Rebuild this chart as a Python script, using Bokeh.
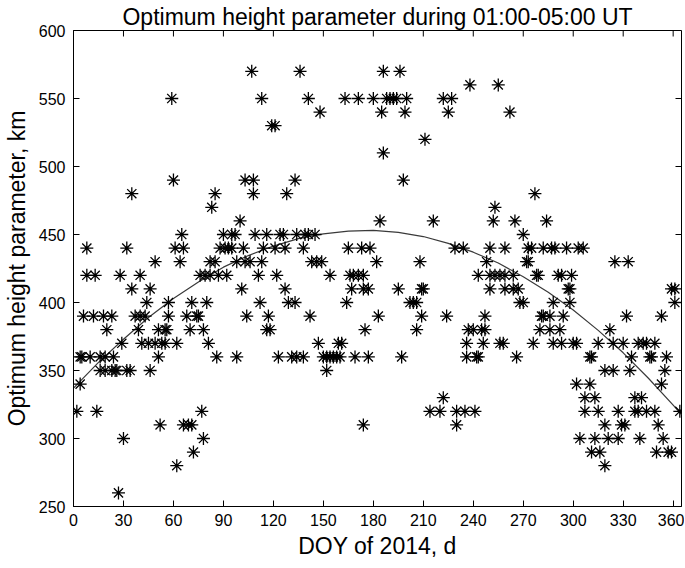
from bokeh.plotting import figure
from bokeh.models import FixedTicker, Range1d
from bokeh.embed import file_html
from bokeh.resources import INLINE

# ---------------- data ----------------
x_ticks = list(range(0, 361, 30))
y_ticks = list(range(250, 601, 50))
x_lim = (0, 365)
y_lim = (250, 600)

# day-of-year values of the points found at each height level (km)
d570 = [107, 136, 186, 196]
d560 = [238, 255]
d550 = [59, 113, 141, 163, 171, 180, 188, 190, 192, 194, 200, 222, 227]
d540 = [148, 185, 199, 225, 262]
d530 = [119, 121]
d520 = [211]
d510 = [186]
d490 = [60, 103, 108, 133, 198]
d480 = [35, 85, 108, 128, 277]
d470 = [83, 253]
d460 = [100, 184, 216, 252, 265, 284]
d450 = [65, 90, 95, 97, 109, 116, 124, 126, 134, 139, 141, 145, 270]
d440 = [8, 32, 61, 66, 88, 91, 93, 95, 102, 114, 121, 127, 138, 165, 173, 178,
        229, 234, 250, 259, 273, 275, 282, 287, 289, 296, 303, 306]
d430 = [49, 64, 82, 85, 98, 103, 106, 113, 143, 146, 149, 182, 208, 248, 272,
        273, 325, 333]
d420 = [8, 13, 28, 40, 76, 79, 82, 87, 92, 111, 122, 154, 166, 168, 171, 174,
        243, 250, 253, 256, 259, 264, 278, 279, 291, 293, 299]
d410 = [35, 46, 101, 127, 167, 174, 177, 195, 209, 210, 250, 259, 264, 267,
        297, 298, 359, 361]
d400 = [44, 57, 71, 80, 112, 129, 133, 164, 202, 204, 206, 268, 270, 288, 298, 361]
d390 = [6, 12, 18, 23, 37, 40, 43, 57, 68, 74, 75, 104, 117, 142, 183, 209, 224,
        247, 281, 282, 286, 294, 332, 353]
d380 = [20, 39, 51, 55, 56, 70, 78, 116, 118, 175, 206, 237, 240, 245, 247, 280,
        286, 292, 322]
d370 = [29, 41, 45, 49, 53, 55, 62, 81, 147, 159, 161, 236, 246, 256, 258, 276,
        288, 293, 300, 302, 315, 324, 330, 339, 342, 344, 349]
d360 = [4, 5, 10, 16, 19, 24, 51, 86, 98, 123, 131, 134, 138, 150, 152, 154, 156,
        158, 160, 169, 177, 197, 236, 242, 243, 266, 310, 311, 335, 346, 347, 356]
d350 = [16, 19, 23, 25, 26, 32, 34, 46, 152, 319, 324, 334, 355]
d340 = [4, 302, 310, 353]
d330 = [222, 307, 313, 337, 341]
d320 = [2, 14, 77, 214, 220, 230, 235, 241, 307, 315, 327, 337, 339, 344, 349, 364]
d310 = [52, 66, 69, 71, 174, 230, 319, 329, 331, 351]
d300 = [30, 78, 304, 313, 321, 327, 340, 354]
d290 = [72, 311, 316, 350, 357, 359]
d280 = [62, 319]
d260 = [27]

levels = [570, 560, 550, 540, 530, 520, 510, 490, 480, 470, 460, 450, 440, 430,
          420, 410, 400, 390, 380, 370, 360, 350, 340, 330, 320, 310, 300, 290,
          280, 260]
level_days = [d570, d560, d550, d540, d530, d520, d510, d490, d480, d470, d460,
              d450, d440, d430, d420, d410, d400, d390, d380, d370, d360, d350,
              d340, d330, d320, d310, d300, d290, d280, d260]

doy = []
height_km = []
for h, days in zip(levels, level_days):
    doy += days
    height_km += [h] * len(days)

# fitted curve
fit_doy = [0, 15, 30, 45, 60, 75, 90, 105, 120, 135, 150, 165, 180, 195, 210,
           225, 240, 255, 270, 285, 300, 315, 330, 345, 360, 365]
fit_height = [337, 356, 373, 389, 403, 415, 426, 434.5, 441.5, 447, 450.5, 452.5,
              453, 451.5, 448.5, 443.5, 437, 429, 419, 407.5, 394.5, 379.5,
              363, 344.5, 324.5, 317.5]

# ---------------- figure ----------------
FONT = "Liberation Sans"
FW, FH = 608, 476          # frame size in px
TICK = 6                   # inward tick length in px

p = figure(frame_width=FW, frame_height=FH,
           x_range=Range1d(*x_lim), y_range=Range1d(*y_lim),
           output_backend="svg", toolbar_location=None,
           title="Optimum height parameter during 01:00-05:00 UT")
p.min_border_left = 64
p.min_border_right = 3
p.min_border_top = 24
p.min_border_bottom = 58
p.background_fill_color = "white"
p.border_fill_color = "white"
p.outline_line_color = "black"
p.outline_line_width = 1
p.xgrid.visible = False
p.ygrid.visible = False

p.title.text_font = FONT
p.title.text_font_size = "23px"
p.title.text_font_style = "normal"
p.title.text_color = "black"
p.title.align = "center"
p.title.standoff = 2

for ax, tk in ((p.xaxis[0], x_ticks), (p.yaxis[0], y_ticks)):
    ax.ticker = FixedTicker(ticks=tk)
    ax.major_tick_in = TICK
    ax.major_tick_out = 0
    ax.minor_tick_in = 0
    ax.minor_tick_out = 0
    ax.axis_line_color = "black"
    ax.major_tick_line_color = "black"
    ax.major_label_text_font = FONT
    ax.major_label_text_font_size = "16px"
    ax.major_label_text_color = "black"
    ax.axis_label_text_font = FONT
    ax.axis_label_text_font_size = "23px"
    ax.axis_label_text_font_style = "normal"
    ax.axis_label_text_color = "black"

p.xaxis[0].axis_label = "DOY of 2014, d"
p.xaxis[0].major_label_standoff = 7
p.xaxis[0].axis_label_standoff = 4
p.yaxis[0].axis_label = "Optimum height parameter, km"
p.yaxis[0].major_label_standoff = 8
p.yaxis[0].axis_label_standoff = 6

# inward ticks on the top and right sides of the box
dy = TICK * (y_lim[1] - y_lim[0]) / FH
dx = TICK * (x_lim[1] - x_lim[0]) / FW
p.segment(x0=x_ticks, y0=[y_lim[1]] * len(x_ticks),
          x1=x_ticks, y1=[y_lim[1] - dy] * len(x_ticks),
          line_color="black", line_width=1)
p.segment(x0=[x_lim[1]] * len(y_ticks), y0=y_ticks,
          x1=[x_lim[1] - dx] * len(y_ticks), y1=y_ticks,
          line_color="black", line_width=1)

p.line(fit_doy, fit_height, line_color="#3a3a3a", line_width=1.2)
p.scatter(doy, height_km, marker="asterisk", size=13,
          line_color="black", line_width=1.3)

open("out.html", "w").write(file_html(p, INLINE))
